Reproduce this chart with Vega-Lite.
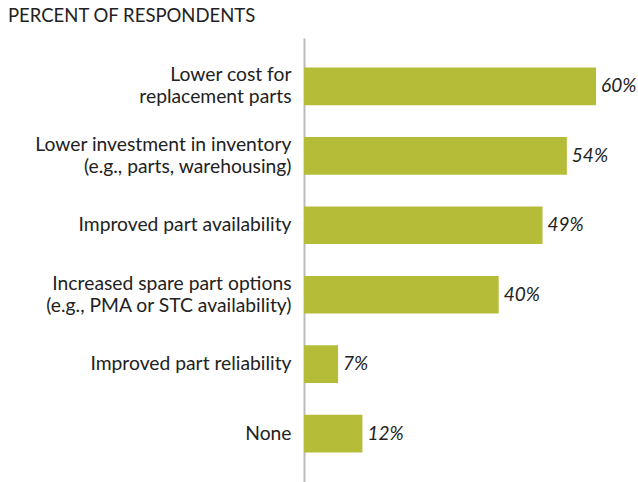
{
  "$schema": "https://vega.github.io/schema/vega-lite/v6.json",
  "width": 331,
  "height": 444,
  "autosize": {"type": "none"},
  "padding": {"left": 304, "top": 38, "right": 3, "bottom": 0},
  "background": "white",
  "title": {
    "text": "PERCENT OF RESPONDENTS",
    "anchor": "start",
    "frame": "group",
    "dx": -296,
    "offset": 13,
    "font": "Lato",
    "fontSize": 18.5,
    "fontWeight": "normal",
    "color": "#222222"
  },
  "data": {
    "values": [
      {"reason": "Lower cost for|replacement parts", "pct": 60},
      {"reason": "Lower investment in inventory|(e.g., parts, warehousing)", "pct": 54},
      {"reason": "Improved part availability", "pct": 49},
      {"reason": "Increased spare part options|(e.g., PMA or STC availability)", "pct": 40},
      {"reason": "Improved part reliability", "pct": 7},
      {"reason": "None", "pct": 12}
    ]
  },
  "encoding": {
    "y": {
      "field": "reason",
      "type": "nominal",
      "sort": null,
      "scale": {"paddingInner": 0.458, "paddingOuter": 0.426},
      "axis": {
        "title": null,
        "ticks": false,
        "labelPadding": 13,
        "labelExpr": "split(datum.label, '|')",
        "labelFont": "Lato",
        "labelFontSize": 19.3,
        "labelColor": "#222222",
        "labelLineHeight": 22,
        "labelLimit": 300,
        "labelOffset": {"condition": {"test": "indexof(datum.value, '|') >= 0", "value": -11}, "value": 0},
        "domainColor": "#bbbbbb",
        "domainWidth": 2,
        "grid": false
      }
    },
    "x": {
      "field": "pct",
      "type": "quantitative",
      "scale": {"domain": [0, 68], "nice": false},
      "axis": null
    }
  },
  "layer": [
    {"mark": {"type": "bar", "color": "#b5bc38"}},
    {
      "mark": {"type": "text", "align": "left", "dx": 5, "font": "Lato", "fontSize": 19, "fontStyle": "italic", "color": "#222222", "text": {"expr": "datum.pct + '%'"}}
    }
  ],
  "config": {"view": {"stroke": null}}
}
